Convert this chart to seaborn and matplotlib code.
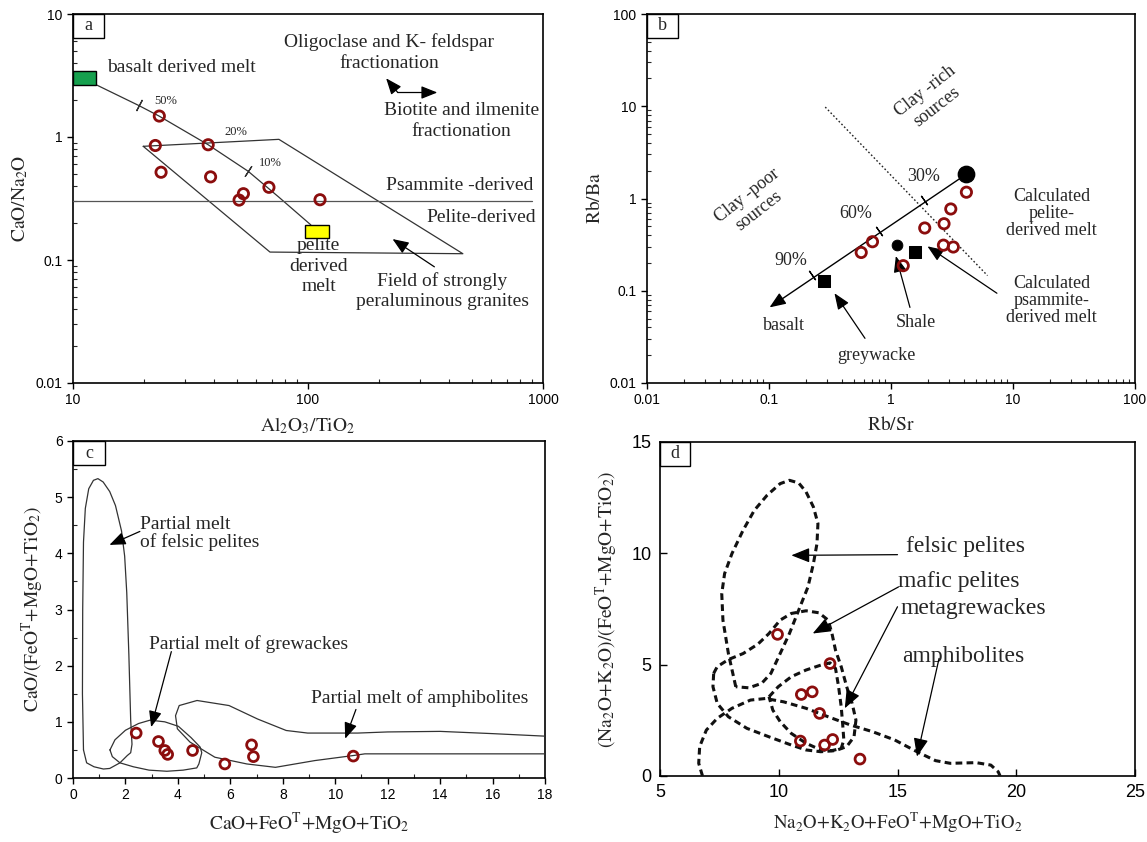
import matplotlib
matplotlib.use("Agg")
import matplotlib.pyplot as plt
import matplotlib.ticker as mticker
from matplotlib.patches import Rectangle
import seaborn as sns
import pandas as pd

sns.set_theme(style="white")
plt.rcParams["font.family"] = ["Liberation Sans", "DejaVu Sans"]
plt.rcParams["mathtext.fontset"] = "stix"
plt.rcParams["axes.edgecolor"] = "black"
plt.rcParams["axes.linewidth"] = 1.2

SERIF = "Liberation Serif"
RED = "#8b0d0d"

# ---------------- panel a data ----------------
a_x = [23.3, 22.4, 37.6, 23.7, 38.5, 68.2, 53.1, 50.9, 112.5]
a_y = [1.48, 0.853, 0.865, 0.517, 0.474, 0.39, 0.346, 0.307, 0.309]
a_mix_x = [12.54, 19.03, 23.3, 37.6, 55.6, 75.2, 102.8]
a_mix_y = [2.66, 1.805, 1.476, 0.865, 0.527, 0.324, 0.193]
a_field_x = [19.9, 75.2, 456, 68.9, 19.9]
a_field_y = [0.84, 0.957, 0.1125, 0.116, 0.84]
a_psammite_y = 0.303
a_basalt_box = [10, 12.5, 2.66, 3.47]
a_pelite_box = [97.5, 123, 0.152, 0.193]

# ---------------- panel b data ----------------
b_x = [4.15, 3.09, 1.89, 2.72, 2.69, 3.24, 0.705, 0.57, 1.26]
b_y = [1.17, 0.77, 0.479, 0.533, 0.312, 0.298, 0.34, 0.26, 0.187]
b_melt_x = [4.15]
b_melt_y = [1.83]
b_shale_x = [1.12]
b_shale_y = [0.312]
b_sq_x = [0.283, 1.56]
b_sq_y = [0.128, 0.265]
b_mix_start = (3.93, 1.75)
b_mix_end = (0.101, 0.066)
b_tick_x = [1.88, 0.80, 0.226]
b_tick_y = [0.96, 0.44, 0.147]
b_div_x = [0.289, 6.18]
b_div_y = [9.8, 0.146]

# ---------------- panel c data ----------------
c_x = [2.41, 3.26, 3.50, 3.61, 4.56, 5.79, 6.81, 6.88, 10.69]
c_y = [0.80, 0.65, 0.49, 0.42, 0.49, 0.25, 0.59, 0.38, 0.39]
c_fp_x = [0.40, 0.36, 0.37, 0.40, 0.47, 0.60, 0.78, 0.95, 1.15, 1.40, 1.62,
          1.85, 1.97, 2.05, 2.13, 2.20, 2.25, 2.20, 2.07, 1.79, 1.40, 1.16,
          0.80, 0.52, 0.40]
c_fp_y = [0.50, 1.50, 3.00, 4.20, 4.80, 5.15, 5.30, 5.33, 5.27, 5.10, 4.85,
          4.40, 3.95, 3.30, 2.20, 1.03, 0.60, 0.45, 0.40, 0.27, 0.17, 0.16,
          0.20, 0.27, 0.50]
c_gw_x = [1.41, 1.60, 2.00, 2.50, 2.94, 3.50, 4.02, 4.50, 4.85, 4.91, 4.80,
          4.72, 4.20, 3.58, 2.90, 2.30, 1.79, 1.50, 1.41]
c_gw_y = [0.50, 0.68, 0.85, 0.97, 1.03, 1.00, 0.92, 0.72, 0.55, 0.45, 0.25,
          0.18, 0.14, 0.12, 0.14, 0.20, 0.27, 0.38, 0.50]
c_am_x = [18.0, 16.0, 14.0, 12.0, 10.86, 8.95, 8.13, 7.04, 5.95, 4.73, 4.05,
          3.91, 3.98, 4.46, 5.41, 6.63, 7.72, 9.22, 10.69, 11.13, 12.0, 18.0]
c_am_y = [0.745, 0.79, 0.83, 0.82, 0.80, 0.80, 0.846, 1.05, 1.29, 1.38, 1.29,
          1.11, 0.876, 0.64, 0.37, 0.25, 0.19, 0.31, 0.40, 0.43, 0.43, 0.43]

# ---------------- panel d data ----------------
d_x = [9.95, 12.16, 10.95, 11.41, 11.72, 10.91, 11.93, 12.27, 13.42]
d_y = [6.36, 5.05, 3.66, 3.78, 2.81, 1.57, 1.39, 1.64, 0.76]
d_fp_x = [8.19, 7.88, 7.65, 7.60, 7.72, 8.03, 8.50, 8.97, 9.51, 10.06, 10.45,
          10.84, 11.15, 11.46, 11.65, 11.61, 11.46, 11.23, 10.84, 10.45,
          10.06, 9.67, 9.28, 8.74, 8.19]
d_fp_y = [4.01, 5.50, 7.00, 8.19, 9.09, 9.99, 11.04, 11.93, 12.61, 13.13,
          13.28, 13.16, 12.76, 12.08, 11.34, 10.44, 9.54, 8.49, 7.45, 6.40,
          5.50, 4.61, 4.16, 3.96, 4.01]
d_mp_x = [7.26, 7.41, 7.88, 8.50, 9.12, 9.59, 10.06, 10.53, 11.15, 11.69,
          12.08, 12.24, 12.39, 12.63, 12.86, 13.09, 13.25, 13.17, 12.86,
          12.39, 11.77, 11.15, 10.53, 9.59, 8.66, 7.88, 7.41, 7.23, 7.26]
d_mp_y = [4.61, 4.91, 5.23, 5.50, 5.92, 6.40, 7.00, 7.30, 7.42, 7.33, 7.00,
          6.40, 5.65, 4.91, 4.01, 3.26, 2.51, 1.76, 1.32, 1.14, 1.09, 1.17,
          1.39, 1.76, 2.14, 2.66, 3.26, 4.01, 4.61]
d_mg_x = [9.59, 9.98, 10.53, 11.15, 11.77, 12.16, 12.39, 12.52, 12.63, 12.70,
          12.74, 12.63, 12.24, 11.77, 11.15, 10.53, 10.06, 9.75, 9.59]
d_mg_y = [3.56, 4.01, 4.46, 4.76, 4.98, 5.08, 4.83, 4.01, 3.11, 2.21, 1.62,
          1.24, 1.14, 1.17, 1.47, 1.91, 2.44, 2.96, 3.56]
d_am_x = [6.79, 6.63, 6.67, 6.95, 7.41, 8.03, 8.81, 9.44, 10.21, 11.15, 12.08,
          13.02, 13.95, 14.88, 15.82, 16.60, 17.22, 18.31, 18.93, 19.24, 19.32]
d_am_y = [0.0, 0.57, 1.32, 2.06, 2.59, 3.04, 3.41, 3.48, 3.33, 3.04, 2.66,
          2.29, 1.99, 1.62, 1.09, 0.69, 0.57, 0.60, 0.49, 0.19, 0.0]

W, H = 1147, 842
fig = plt.figure(figsize=(W / 100, H / 100), dpi=100)
fig.patch.set_facecolor("white")


def make_ax(l, r, t, b):
    return fig.add_axes([l / W, 1 - b / H, (r - l) / W, (b - t) / H])


axa = make_ax(73, 543, 14, 383)
axb = make_ax(647, 1135, 14, 383)
axc = make_ax(73, 545, 441, 778)
axd = make_ax(660, 1135, 442, 776)


def panel_label(ax, s, wpx=31, hpx=24):
    bb = ax.get_position()
    w = wpx / (bb.width * W)
    h = hpx / (bb.height * H)
    ax.add_patch(Rectangle((0, 1 - h), w, h, transform=ax.transAxes,
                           facecolor="white", edgecolor="black", lw=1.0,
                           zorder=6, clip_on=False))
    ax.text(w / 2, 1 - h / 2, s, transform=ax.transAxes, ha="center",
            va="center", family=SERIF, fontsize=13, zorder=7)


def arrow(ax, tail, head, lw=0.9, hl=0.7, hw=0.28, ms=14):
    ax.annotate("", xy=head, xytext=tail,
                arrowprops=dict(arrowstyle=f"-|>,head_length={hl},head_width={hw}",
                                lw=lw, color="black", shrinkA=0, shrinkB=0,
                                mutation_scale=ms))


def open_circles(ax, x, y, s=48):
    df = pd.DataFrame({"x": x, "y": y})
    sns.scatterplot(data=df, x="x", y="y", ax=ax, marker="o", s=s,
                    facecolor="none", edgecolor=RED, linewidth=2.0, zorder=5)


def style_ticks(ax):
    ax.tick_params(axis="both", which="major", direction="out", length=4,
                   width=1.0, labelsize=10, colors="black",
                   bottom=True, left=True, top=False, right=False)
    ax.tick_params(axis="both", which="minor", direction="in", length=3,
                   width=0.8, bottom=True, left=True, top=False, right=False)
    for sp in ax.spines.values():
        sp.set_visible(True)
        sp.set_color("black")
        sp.set_linewidth(1.2)


# ======================= panel a =======================
ax = axa
ax.set_xscale("log")
ax.set_yscale("log")
ax.set_xlim(10, 1000)
ax.set_ylim(0.01, 10)
ax.add_patch(Rectangle((a_basalt_box[0], a_basalt_box[2]),
                       a_basalt_box[1] - a_basalt_box[0],
                       a_basalt_box[3] - a_basalt_box[2],
                       facecolor="#16a04e", edgecolor="black", lw=1.0, zorder=4))
ax.add_patch(Rectangle((a_pelite_box[0], a_pelite_box[2]),
                       a_pelite_box[1] - a_pelite_box[0],
                       a_pelite_box[3] - a_pelite_box[2],
                       facecolor="#ffff00", edgecolor="black", lw=1.0, zorder=4))
ax.plot(a_mix_x, a_mix_y, color="#333333", lw=0.9, zorder=3)
ax.plot(a_field_x, a_field_y, color="#333333", lw=0.9, zorder=3)
ax.plot([10, 900], [a_psammite_y, a_psammite_y], color="#555555", lw=0.9, zorder=3)
ax.plot([19.03], [1.805], marker=(2, 2, -28), ms=9, mew=0.9, color="#333333", ls="none")
ax.plot([55.6], [0.527], marker=(2, 2, -33), ms=9, mew=0.9, color="#333333", ls="none")
open_circles(ax, a_x, a_y, s=55)
fs = 14
ax.text(13.9, 3.7, "basalt derived melt", family=SERIF, fontsize=fs, ha="left", va="center")
ax.text(24.7, 1.97, "50%", family=SERIF, fontsize=9, ha="center", va="center")
ax.text(49.5, 1.1, "20%", family=SERIF, fontsize=9, ha="center", va="center")
ax.text(68.9, 0.61, "10%", family=SERIF, fontsize=9, ha="center", va="center")
ax.text(221, 5.87, "Oligoclase and K- feldspar", family=SERIF, fontsize=fs, ha="center", va="center")
ax.text(221, 3.97, "fractionation", family=SERIF, fontsize=fs, ha="center", va="center")
arrow(ax, (241, 2.3), (215, 3.0))
arrow(ax, (241, 2.3), (355, 2.3))
ax.text(451, 1.64, "Biotite and ilmenite", family=SERIF, fontsize=fs, ha="center", va="center")
ax.text(451, 1.11, "fractionation", family=SERIF, fontsize=fs, ha="center", va="center")
ax.text(444, 0.401, "Psammite -derived", family=SERIF, fontsize=fs, ha="center", va="center")
ax.text(546, 0.22, "Pelite-derived", family=SERIF, fontsize=fs, ha="center", va="center")
ax.text(111, 0.131, "pelite", family=SERIF, fontsize=fs, ha="center", va="center")
ax.text(111, 0.089, "derived", family=SERIF, fontsize=fs, ha="center", va="center")
ax.text(111, 0.061, "melt", family=SERIF, fontsize=fs, ha="center", va="center")
ax.text(372, 0.067, "Field of strongly", family=SERIF, fontsize=fs, ha="center", va="center")
ax.text(372, 0.0456, "peraluminous granites", family=SERIF, fontsize=fs, ha="center", va="center")
arrow(ax, (345, 0.088), (229, 0.148))
ax.xaxis.set_major_locator(mticker.FixedLocator([10, 100, 1000]))
ax.xaxis.set_major_formatter(mticker.FixedFormatter(["10", "100", "1000"]))
ax.yaxis.set_major_locator(mticker.FixedLocator([0.01, 0.1, 1, 10]))
ax.yaxis.set_major_formatter(mticker.FixedFormatter(["0.01", "0.1", "1", "10"]))
ax.xaxis.set_minor_locator(mticker.LogLocator(base=10, subs=range(2, 10)))
ax.yaxis.set_minor_locator(mticker.LogLocator(base=10, subs=range(2, 10)))
ax.xaxis.set_minor_formatter(mticker.NullFormatter())
ax.yaxis.set_minor_formatter(mticker.NullFormatter())
ax.set_xlabel(r"$\mathrm{Al_2O_3/TiO_2}$", fontsize=14, labelpad=6)
ax.set_ylabel(r"$\mathrm{CaO/Na_2O}$", fontsize=14, labelpad=4)
style_ticks(ax)
panel_label(ax, "a")

# ======================= panel b =======================
ax = axb
ax.set_xscale("log")
ax.set_yscale("log")
ax.set_xlim(0.01, 100)
ax.set_ylim(0.01, 100)
ax.plot(b_div_x, b_div_y, color="#222222", lw=1.0, ls=(0, (1.2, 1.6)), zorder=3)
arrow(ax, b_mix_start, b_mix_end, lw=1.0)
ax.plot(b_tick_x, b_tick_y, marker=(2, 2, 35), ms=8, mew=0.9, color="black", ls="none")
open_circles(ax, b_x, b_y, s=55)
sns.scatterplot(x=b_melt_x, y=b_melt_y, ax=ax, marker="o", s=140, color="black", edgecolor="black", zorder=6)
sns.scatterplot(x=b_shale_x, y=b_shale_y, ax=ax, marker="o", s=60, color="black", edgecolor="black", zorder=6)
sns.scatterplot(x=b_sq_x, y=b_sq_y, ax=ax, marker="s", s=85, color="black", edgecolor="black", zorder=6)
fsb = 13
ax.text(2.13, 11.9, "Clay -rich\nsources", family=SERIF, fontsize=fsb, ha="center", va="center", rotation=38, multialignment="center")
ax.text(0.074, 0.89, "Clay -poor\nsources", family=SERIF, fontsize=fsb, ha="center", va="center", rotation=38, multialignment="center")
ax.text(1.85, 1.72, "30%", family=SERIF, fontsize=fsb, ha="center", va="center")
ax.text(0.517, 0.684, "60%", family=SERIF, fontsize=fsb, ha="center", va="center")
ax.text(0.152, 0.214, "90%", family=SERIF, fontsize=fsb, ha="center", va="center")
ax.text(0.132, 0.042, "basalt", family=SERIF, fontsize=fsb, ha="center", va="center")
ax.text(0.76, 0.0197, "greywacke", family=SERIF, fontsize=fsb, ha="center", va="center")
arrow(ax, (0.612, 0.0305), (0.344, 0.094))
ax.text(1.61, 0.0457, "Shale", family=SERIF, fontsize=fsb, ha="center", va="center")
arrow(ax, (1.43, 0.066), (1.096, 0.238))
ax.text(20.8, 0.68, "Calculated\npelite-\nderived melt", family=SERIF, fontsize=fsb, ha="center", va="center", multialignment="center", linespacing=1.0)
ax.text(20.8, 0.078, "Calculated\npsammite-\nderived melt", family=SERIF, fontsize=fsb, ha="center", va="center", multialignment="center", linespacing=1.0)
arrow(ax, (7.38, 0.094), (1.99, 0.303))
dec = [0.01, 0.1, 1, 10, 100]
declab = ["0.01", "0.1", "1", "10", "100"]
for axis in (ax.xaxis, ax.yaxis):
    axis.set_major_locator(mticker.FixedLocator(dec))
    axis.set_major_formatter(mticker.FixedFormatter(declab))
    axis.set_minor_locator(mticker.LogLocator(base=10, subs=range(2, 10)))
    axis.set_minor_formatter(mticker.NullFormatter())
ax.set_xlabel(r"$\mathrm{Rb/Sr}$", fontsize=14, labelpad=6)
ax.set_ylabel(r"$\mathrm{Rb/Ba}$", fontsize=14, labelpad=4)
style_ticks(ax)
panel_label(ax, "b")

# ======================= panel c =======================
ax = axc
ax.set_xlim(0, 18)
ax.set_ylim(0, 6)
ax.plot(c_fp_x, c_fp_y, color="#333333", lw=0.9, zorder=3)
ax.plot(c_gw_x, c_gw_y, color="#333333", lw=0.9, zorder=3)
ax.plot(c_am_x, c_am_y, color="#333333", lw=0.9, zorder=3)
open_circles(ax, c_x, c_y, s=50)
fsc = 14
ax.text(2.55, 4.35, "Partial melt\nof felsic pelites", family=SERIF, fontsize=fsc, ha="left", va="center", linespacing=1.0)
arrow(ax, (2.55, 4.39), (1.39, 4.15))
ax.text(2.89, 2.38, "Partial melt of grewackes", family=SERIF, fontsize=fsc, ha="left", va="center")
arrow(ax, (3.75, 2.25), (2.98, 0.906))
ax.text(9.06, 1.42, "Partial melt of amphibolites", family=SERIF, fontsize=fsc, ha="left", va="center")
arrow(ax, (10.79, 1.22), (10.38, 0.70))
ax.xaxis.set_major_locator(mticker.MultipleLocator(2))
ax.xaxis.set_minor_locator(mticker.MultipleLocator(1))
ax.yaxis.set_major_locator(mticker.MultipleLocator(1))
ax.yaxis.set_minor_locator(mticker.MultipleLocator(0.5))
ax.set_xlabel(r"$\mathrm{CaO{+}FeO^T{+}MgO{+}TiO_2}$", fontsize=14, labelpad=6)
ax.set_ylabel(r"$\mathrm{CaO/(FeO^T{+}MgO{+}TiO_2)}$", fontsize=14, labelpad=6)
style_ticks(ax)
panel_label(ax, "c", 32, 24)

# ======================= panel d =======================
ax = axd
ax.set_xlim(5, 25)
ax.set_ylim(0, 15)
dash = (0, (2.2, 1.4))
for xs, ys in ((d_fp_x, d_fp_y), (d_mp_x, d_mp_y), (d_mg_x, d_mg_y), (d_am_x, d_am_y)):
    ax.plot(xs, ys, color="#111111", lw=2.2, ls=dash, zorder=3)
open_circles(ax, d_x, d_y, s=50)
fsd = 17
ax.text(15.35, 10.32, "felsic pelites", family=SERIF, fontsize=fsd, ha="left", va="center")
arrow(ax, (15.0, 9.94), (10.53, 9.91), ms=16)
ax.text(15.04, 8.72, "mafic pelites", family=SERIF, fontsize=fsd, ha="left", va="center")
arrow(ax, (15.04, 8.49), (11.43, 6.4), ms=16)
ax.text(15.12, 7.52, "metagrewackes", family=SERIF, fontsize=fsd, ha="left", va="center")
arrow(ax, (15.0, 7.6), (12.78, 3.04), ms=16)
ax.text(15.19, 5.38, "amphibolites", family=SERIF, fontsize=fsd, ha="left", va="center")
arrow(ax, (16.75, 5.28), (15.82, 0.87), ms=16)
ax.xaxis.set_major_locator(mticker.MultipleLocator(5))
ax.yaxis.set_major_locator(mticker.MultipleLocator(5))
ax.set_xlabel(r"$\mathrm{Na_2O{+}K_2O{+}FeO^T{+}MgO{+}TiO_2}$", fontsize=13.5, labelpad=7)
ax.set_ylabel(r"$\mathrm{(Na_2O{+}K_2O)/(FeO^T{+}MgO{+}TiO_2)}$", fontsize=14, labelpad=8)
style_ticks(ax)
ax.tick_params(axis="both", which="major", direction="in", length=5, labelsize=13, pad=6)
panel_label(ax, "d", 30, 24)

fig.savefig("out.png", dpi=100, facecolor="white")
